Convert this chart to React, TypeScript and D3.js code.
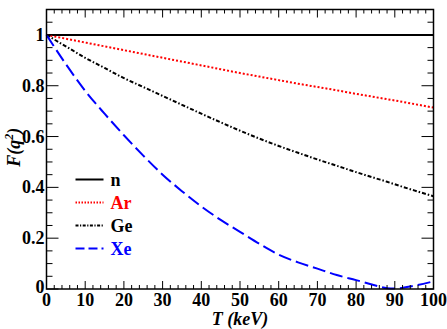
import React from 'react';
import * as d3 from 'd3';

// recoil energy grid (keV)
const energies = [0, 5, 10, 15, 20, 25, 30, 35, 40, 45, 50, 55, 60, 65, 70, 75, 80, 85, 88, 90, 95, 100];

// F(q^2)
const fN = energies.map(() => 1);
const fAr = [1, 0.985, 0.97, 0.955, 0.94, 0.925, 0.91, 0.895, 0.88, 0.865, 0.85, 0.836, 0.822, 0.808, 0.795, 0.782, 0.768, 0.755, 0.747, 0.742, 0.728, 0.714];
const fGe = [1, 0.955, 0.91, 0.87, 0.83, 0.795, 0.76, 0.725, 0.69, 0.656, 0.623, 0.592, 0.563, 0.536, 0.51, 0.485, 0.46, 0.436, 0.422, 0.412, 0.388, 0.365];
const fXe = [1, 0.885, 0.78, 0.69, 0.605, 0.525, 0.45, 0.385, 0.325, 0.272, 0.225, 0.178, 0.135, 0.105, 0.08, 0.055, 0.035, 0.014, 0.003, 0.002, 0.013, 0.03];

const seriesNames = ['n', 'Ar', 'Ge', 'Xe'];
const seriesValues = [fN, fAr, fGe, fXe];
const seriesColors = ['#000000', '#ff0000', '#000000', '#0000ff'];
const seriesDash = ['none', '2,2', '4,2,1.5,2', '13,5'];
const legendDash = ['none', '1.5,1.5', '3,1.5,1.2,1.5', '9,4'];

const xTicks = [0, 10, 20, 30, 40, 50, 60, 70, 80, 90, 100];
const yTicks = [0, 0.2, 0.4, 0.6, 0.8, 1];

const App = () => {
  const width = 447;
  const height = 329;
  const margin = { top: 9.5, right: 13.5, bottom: 40, left: 46.5 };
  const chartWidth = width - margin.left - margin.right;
  const chartHeight = height - margin.top - margin.bottom;
  const font = '"Liberation Serif", "Times New Roman", serif';

  const xScale = d3.scaleLinear().domain([0, 100]).range([0, chartWidth]);
  const yScale = d3.scaleLinear().domain([0, 1.1]).range([chartHeight, 0]);

  const xMinor = d3.range(0, 100.001, 2);
  const yMinor = d3.range(0, 1.1001, 0.05);

  const line = d3.line<number>()
    .x((d, i) => xScale(energies[i]))
    .y(d => yScale(d))
    .curve(d3.curveMonotoneX);

  return (
    <svg width={width} height={height} style={{ position: 'absolute', left: 0, top: 0, background: '#fff' }}>
      <g transform={`translate(${margin.left}, ${margin.top})`}>
        {/* curves */}
        {seriesValues.map((vals, i) =>
          <path key={`s-${i}`} d={line(vals) || ''} fill='none' stroke={seriesColors[i]}
            strokeWidth={2} strokeDasharray={seriesDash[i]} />
        )}

        {/* ticks, pointing inward on all four sides */}
        {xMinor.map((d, i) => {
          const major = Math.round(d) % 10 === 0;
          const len = major ? 8 : 4;
          return (
            <g key={`xt-${i}`} stroke='#000' strokeWidth={1}>
              <line x1={xScale(d)} x2={xScale(d)} y1={chartHeight} y2={chartHeight - len} />
              <line x1={xScale(d)} x2={xScale(d)} y1={0} y2={len} />
            </g>
          );
        })}
        {yMinor.map((d, i) => {
          const major = Math.round(d * 100) % 20 === 0;
          const len = major ? 12 : 6;
          return (
            <g key={`yt-${i}`} stroke='#000' strokeWidth={1}>
              <line x1={0} x2={len} y1={yScale(d)} y2={yScale(d)} />
              <line x1={chartWidth} x2={chartWidth - len} y1={yScale(d)} y2={yScale(d)} />
            </g>
          );
        })}

        <rect x={0} y={0} width={chartWidth} height={chartHeight} fill='none' stroke='#000' strokeWidth={1.5} />

        {/* tick labels */}
        {xTicks.map(d =>
          <text key={`xl-${d}`} x={xScale(d)} y={chartHeight + 17} textAnchor='middle'
            fontFamily={font} fontWeight='bold' fontSize={18}>{d}</text>
        )}
        {yTicks.map(d =>
          <text key={`yl-${d}`} x={-2} y={yScale(d) + (d === 0 ? 4 : 6)} textAnchor='end'
            fontFamily={font} fontWeight='bold' fontSize={18}>{String(d)}</text>
        )}

        {/* legend */}
        {seriesNames.map((name, i) =>
          <g key={`lg-${i}`} transform={`translate(29, ${179.5 + i * 23 - margin.top})`}>
            <line x1={0} x2={28} y1={0} y2={0} stroke={seriesColors[i]} strokeWidth={2}
              strokeDasharray={legendDash[i]} />
            <text x={35} y={6} fontFamily={font} fontWeight='bold' fontSize={18}
              fill={seriesColors[i]}>{name}</text>
          </g>
        )}
      </g>

      {/* axis titles */}
      <text x={margin.left + chartWidth / 2} y={325} textAnchor='middle' fontFamily={font}
        fontWeight='bold' fontStyle='italic' fontSize={18}>T (keV)</text>
      <text transform={`translate(20, ${margin.top + chartHeight / 2 - 2}) rotate(-90)`} textAnchor='middle'
        fontFamily={font} fontWeight='bold' fontStyle='italic' fontSize={18}>
        F(q<tspan baselineShift='super' fontSize={12}>2</tspan>)
      </text>
    </svg>
  );
};

export default App;
